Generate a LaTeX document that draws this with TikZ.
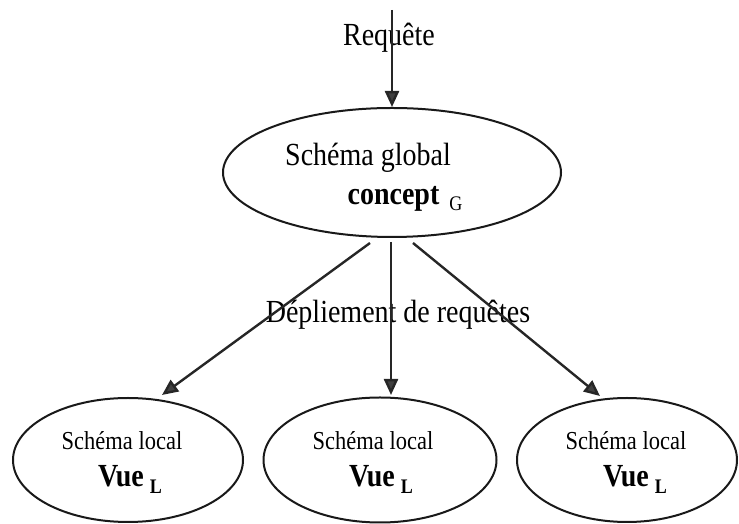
\documentclass[tikz,border=0pt]{standalone}
\usepackage{fontspec}
\setmainfont{Liberation Serif}
\usepackage{graphicx}
\usetikzlibrary{shapes.geometric,arrows.meta}
\tikzset{
  oval/.style={ellipse, draw=black!90, line width=2pt, inner sep=0pt},
  flow/.style={draw=black!85, line width=2.4pt,
    -{Triangle[length=16pt,width=14pt,fill=black!75]}},
  lbl/.style={inner sep=0pt, anchor=base},
  big/.style={font=\fontsize{28}{30}\selectfont},
  small/.style={font=\fontsize{22.5}{24}\selectfont},
}
\newcommand{\tall}[1]{\scalebox{1}[1.15]{#1}}
\newcommand{\subG}{\raisebox{-5pt}{\fontsize{18}{18}\selectfont G}}
\newcommand{\subL}{\raisebox{-6pt}{\fontsize{18}{18}\selectfont\bfseries L}}

\begin{document}
\begin{tikzpicture}[x=1pt,y=1pt]
\useasboundingbox (0,0) rectangle (739,524);

% schemas
\node[oval, minimum width=338pt, minimum height=129pt] (glob) at (392,351.5) {};
\node[oval, minimum width=230pt, minimum height=124pt] (loc1) at (128,64) {};
\node[oval, minimum width=233pt, minimum height=125pt] (loc2) at (380,64) {};
\node[oval, minimum width=220pt, minimum height=124pt] (loc3) at (627,64) {};

% texts
\node[lbl, big] (req) at (389,478) {\tall{Requête}};
\node[lbl, big] (sg) at (368,358) {\tall{Schéma global}};
\node[lbl, big] (cg) at (405,319) {\tall{\textbf{concept}\hspace{10pt}\subG}};
\node[lbl, big] (dep) at (398,201) {\tall{Dépliement de requêtes}};

\node[lbl, small] (sl1) at (122,74) {\tall{Schéma local}};
\node[lbl, small] (sl2) at (373,74) {\tall{Schéma local}};
\node[lbl, small] (sl3) at (626,74) {\tall{Schéma local}};
\node[lbl, big] (v1) at (130,37) {\tall{\textbf{Vue}\hspace{6pt}\subL}};
\node[lbl, big] (v2) at (381,37) {\tall{\textbf{Vue}\hspace{6pt}\subL}};
\node[lbl, big] (v3) at (635,37) {\tall{\textbf{Vue}\hspace{6pt}\subL}};

% connectors
\coordinate (in) at (392,514);
\coordinate (s1) at (370,281);
\coordinate (s2) at (391,282);
\coordinate (s3) at (413,281);
\coordinate (e1) at (162,129);
\coordinate (e2) at (391,129);
\coordinate (e3) at (600,128);

\draw[flow] (in) -- (glob.north);
\draw[flow] (s1) -- (e1);
\draw[flow] (s2) -- (e2);
\draw[flow] (s3) -- (e3);
\end{tikzpicture}
\end{document}
